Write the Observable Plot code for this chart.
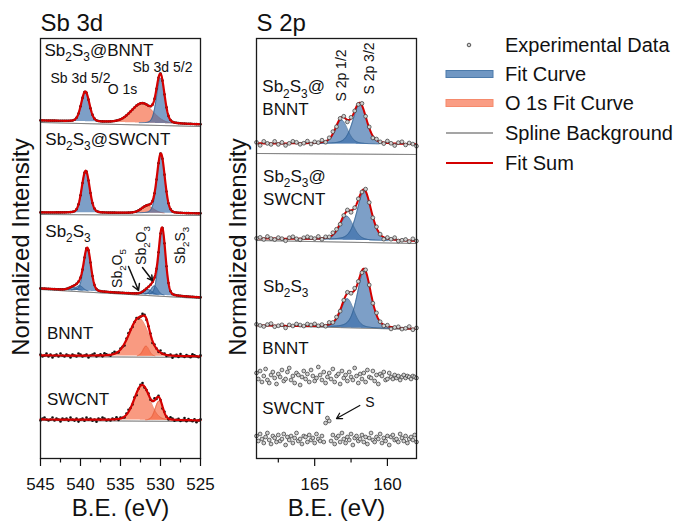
<!DOCTYPE html>
<html><head><meta charset="utf-8">
<script src="https://cdn.jsdelivr.net/npm/d3@7"></script>
<script src="https://cdn.jsdelivr.net/npm/@observablehq/plot@0.6"></script>
<style>
body{margin:0;background:#fff;}
#fig{position:relative;width:685px;height:529px;overflow:hidden;font-family:"Liberation Sans",Arial,Helvetica,sans-serif;color:#111;}
#fig > svg, #fig > div{position:absolute;top:0;}
.ylab{font-size:24px;white-space:nowrap;transform:translate(-50%,-50%) rotate(-90deg);}
</style></head><body><div id="fig"></div>
<script>
const FONT = '"Liberation Sans", Arial, Helvetica, sans-serif';

// ---------------- Sb 3d panel data ----------------
const sbTitle = "Sb 3d";
const sbDomain = [545, 525];
const sbMajorTicks = [545, 540, 535, 530, 525];
const sbMinorTicks = [542.5, 537.5, 532.5, 527.5];
const sbSpectra = ["Sb_2S_3@BNNT", "Sb_2S_3@SWCNT", "Sb_2S_3", "BNNT", "SWCNT"];
const sbLabelX = [544.5, 544.4, 544.4, 544.2, 544.2];
const sbLabelY = [408, 319, 227, 125, 59];
const sbBackgroundLeft = [336, 244, 169, 102, 38];
const sbBackgroundRight = [332, 243, 160, 101, 37];
const sbBaselineGap = [2, 2, 1, 1, 1];
const sbPeakSpectrum = [0, 0, 0, 1, 1, 1, 2, 2, 2, 2, 2, 2, 3, 3, 4, 4];
const sbPeakKind = ["fit","fit","o1s","fit","fit","o1s","fit","fit","fit","fit","fit","fit","o1s","o1s","o1s","o1s"];
const sbPeakCenter = [539.4, 530.0, 532.3, 539.35, 529.95, 531.6, 539.15, 529.8, 540.1, 530.75, 540.9, 531.55, 532.7, 531.8, 532.3, 530.2];
const sbPeakHeight = [30, 45, 19.5, 42, 59, 7, 43, 67, 5, 9, 3, 5, 38, 10, 35, 19];
const sbPeakFwhm = [1.2, 1.15, 3.2, 1.15, 1.15, 1.8, 1.05, 1.0, 1.0, 1.0, 1.2, 1.2, 2.8, 0.9, 2.3, 1.1];
const sbLorentzFraction = 0.15;
const sbResidualBNNT = [1,-1,0,2,-1, 1,-2,0,1,-1, 2,0,-1,1,0, -2,1,0,-1,2, 1,-1,0,1,-2, 0,1,2,-1,0, 1,-1,2,1,0, -1,1,2,0,-1, 1,0,-2,1,2, 1,-1,0,1,-1, 0,2,1,-1,0, 1,-2,1,0,-1, 2,0,1,-1,0, 1,-2,0,1,-1, 2,0,-1,1,0, -1,2,1,0,-1, 1];
const sbResidualSWCNT = [-1,1,2,0,-1, 0,2,-1,1,0, -2,1,0,1,-1, 2,0,-1,1,-2, 0,1,-1,2,0, 1,-1,0,-2,1, 0,2,1,-1,0, -1,1,0,2,-1, 1,0,-1,1,2, 0,-1,1,-2,0, 1,2,-1,0,1, -1,0,2,-1,1, 0,-2,1,0,-1, 2,1,-1,0,1, -1,0,2,-1,1, 0,-1,1,-2,0, 1];
const sbAnnotText = ["Sb 3d 5/2", "Sb 3d 5/2", "O 1s"];
const sbAnnotX = [540, 529.75, 534.75];
const sbAnnotY = [380, 391, 369];
const sbRotText = ["Sb_2O_5", "Sb_2O_3", "Sb_2S_3"];
const sbRotX = [535.4, 532.4, 527.5];
const sbRotY = [190, 213, 213];
const sbArrowX1 = [534.0, 532.25], sbArrowY1 = [192, 191];
const sbArrowX2 = [532.75, 531.0], sbArrowY2 = [168, 178];

// ---------------- S 2p panel data ----------------
const sTitle = "S 2p";
const sDomain = [169, 158];
const sMajorTicks = [165, 160];
const sMinorTicks = [167.5, 162.5];
const sLabelText = ["Sb_2S_3@", "BNNT", "Sb_2S_3@", "SWCNT", "Sb_2S_3", "BNNT", "SWCNT"];
const sLabelX = [168.6, 168.6, 168.55, 168.55, 168.55, 168.6, 168.6];
const sLabelY = [371.5, 349, 282, 259, 172, 110, 50];
const sBackgroundLeft = [305, 218, 133];
const sBackgroundRight = [304, 215, 129];
const sBaselineGap = [10, 2, 0];
const sPeakSpectrum = [0, 0, 1, 1, 2, 2];
const sPeakKind = ["fit","fit","fit","fit","fit","fit"];
const sPeakCenter = [161.9, 163.15, 161.6, 162.8, 161.6, 162.75];
const sPeakHeight = [40, 24, 49, 24, 57, 29];
const sPeakFwhm = [1.1, 1.0, 1.15, 1.1, 1.1, 1.05];
const sLorentzFraction = 0.35;
const sResidual1 = [1,-2,2,0,-1, 2,-1,1,-2,0, 2,1,-1,0,2, -1,1,0,2,-1, 1,2,-1,0,1, -2,1,0,-1,2, 0,1,-2,1,0, -1,2,0,-2,1, 2,-1,1,0,-2];
const sResidual2 = [0,1,-1,2,0, -1,1,0,-2,1, 2,0,-1,1,2, 1,0,2,-1,1, 0,2,1,-1,0, 1,-2,0,1,-1, 2,0,-1,1,0, -2,1,0,2,-1, 0,1,-1,2,0];
const sResidual3 = [1,0,-1,1,2, -1,0,1,-2,1, 0,2,1,0,2, 1,2,0,1,-1, 2,0,1,-1,0, 1,-1,2,0,-2, 1,0,-1,2,0, -1,1,-2,0,1, -1,0,2,-1,1];
const sNoiseCenter = [81.5, 19.5];
const sNoiseBNNT = [4,-2,6,-5,1, 8,-3,-6,2,5, -1,-7,3,0,7, -4,-2,5,9,-3, 1,-6,4,2,-8, 0,6,-2,3,-5, 7,1,-4,-1,10, 2,-3,5,-6,0, 4,-2,8,-5,1, 3,-7,6,-1,2, -4,5,0,-3,9, 1,-6,3,-2,4, -5,7,0,-1,6, -4,2,-7,3,1, 5,-3,-2,4,0, -2,2,-1,1,-3, 0,2,-1,1,0, -2,1,0,-1];
const sNoiseSWCNT = [3,-2,5,0,-4, 2,6,-1,-5,3, 1,-3,4,-2,0, 5,-6,2,-1,3, -4,1,6,-2,0, -5,3,2,-3,4, -1,1,-4,5,0, -2,3,-3, 16,21,18, -2,4,-5,1,3, -3,6,0,-4,2, -1,5,-6,1,3, -2,0,4,-3,2, -5,1,6,-1,-3, 2,0,5,-4,1, -2,3,-6,2,4, -1,0,-3,5,1, -2,3,-4,0,2, -1,4,-3];
const sRotText = ["S 2p 1/2", "S 2p 3/2"];
const sRotX = [163.17, 161.2];
const sRotY = [383, 390];
const sAnnotText = ["S"];
const sAnnotX = [161.2];
const sAnnotY = [56];
const sArrowX1 = [161.9], sArrowY1 = [53];
const sArrowX2 = [163.5], sArrowY2 = [40];

// ---------------- legend ----------------
const legendLabels = ["Experimental Data", "Fit Curve", "O 1s Fit Curve", "Spline Background", "Fit Sum"];

// ---------------- colours ----------------
const BLUE = "#3a6eaa", BLUE_EDGE = "#30608f";
const ORANGE = "#f66a45", ORANGE_EDGE = "#e4623e";
const RED = "#d40000", GREY = "#4d4d4d";

function voigt(x, c, h, w, eta) {
  const t = (x - c) / w;
  return h * ((1 - eta) * Math.exp(-4 * Math.LN2 * t * t) + eta / (1 + 4 * t * t));
}

function build(cfg) {
  const [x0, x1] = cfg.domain;
  const fine = d3.range(0, Math.round((x0 - x1) / cfg.fineStep) + 1).map(i => x0 - i * cfg.fineStep);
  const baseAt = (i, x) => cfg.bgLeft[i] + (cfg.bgRight[i] - cfg.bgLeft[i]) * (x0 - x) / (x0 - x1);
  const model = (i, x) => {
    let y = baseAt(i, x) + cfg.gap[i];
    cfg.peakSpectrum.forEach((s, p) => { if (s === i) y += voigt(x, cfg.center[p], cfg.height[p], cfg.fwhm[p], cfg.eta); });
    return y;
  };
  const n = cfg.bgLeft.length;
  const bgRows = [], sumRows = [], expRows = [], compRows = [];
  for (let i = 0; i < n; i++) {
    fine.forEach(x => { bgRows.push({s: i, x, y: baseAt(i, x)}); sumRows.push({s: i, x, y: model(i, x)}); });
    const res = cfg.residuals[i] || [];
    const nExp = Math.round((x0 - x1) / cfg.expStep) + 1;
    for (let k = 0; k < nExp; k++) {
      const x = x0 - k * cfg.expStep;
      expRows.push({s: i, x, y: model(i, x) + (res[k] || 0)});
    }
  }
  cfg.peakSpectrum.forEach((s, p) => {
    fine.forEach(x => {
      const v = voigt(x, cfg.center[p], cfg.height[p], cfg.fwhm[p], cfg.eta);
      if (v < 0.3) return;
      const b = baseAt(s, x) + cfg.gap[s];
      compRows.push({id: p, kind: cfg.kind[p], x, y1: b, y2: b + v});
    });
  });
  return {bgRows, sumRows, expRows, compRows};
}

function compMarks(rows) {
  const fit = rows.filter(d => d.kind === "fit"), o = rows.filter(d => d.kind === "o1s");
  return [
    Plot.areaY(o, {x: "x", y1: "y1", y2: "y2", z: "id", fill: ORANGE, fillOpacity: 0.68}),
    Plot.line(o, {x: "x", y: "y2", z: "id", stroke: ORANGE_EDGE, strokeWidth: 0.7}),
    Plot.areaY(fit, {x: "x", y1: "y1", y2: "y2", z: "id", fill: BLUE, fillOpacity: 0.66}),
    Plot.line(fit, {x: "x", y: "y2", z: "id", stroke: BLUE_EDGE, strokeWidth: 0.7})
  ];
}

function panel({title, domain, major, minor, marginLeft, marginRight, marks}) {
  return Plot.plot({
    width: 215, height: 529, marginLeft, marginRight, marginTop: 38, marginBottom: 71,
    style: {fontFamily: FONT, fontSize: "17px", color: "#111", background: "transparent", overflow: "visible"},
    x: {domain, label: null},
    y: {domain: [0, 420], axis: null},
    marks: [
      ...marks,
      Plot.frame({stroke: "#1a1a1a", strokeWidth: 1.3}),
      Plot.axisX({ticks: major, tickSize: 8, tickPadding: 11, label: null, strokeWidth: 1.2, fontSize: 17}),
      Plot.axisX({ticks: minor, tickSize: 4.5, tickFormat: () => "", label: null, strokeWidth: 1.2}),
      Plot.text([title], {text: d => d, frameAnchor: "top-left", textAnchor: "start", lineAnchor: "bottom", dy: -8, fontSize: 24}),
      Plot.text(["B.E. (eV)"], {text: d => d, frameAnchor: "bottom", lineAnchor: "bottom", dy: 57, fontSize: 24})
    ]
  });
}

// ---- left panel ----
const sb = build({
  domain: sbDomain, fineStep: 0.05, expStep: 0.25,
  bgLeft: sbBackgroundLeft, bgRight: sbBackgroundRight, gap: sbBaselineGap,
  peakSpectrum: sbPeakSpectrum, center: sbPeakCenter, height: sbPeakHeight, fwhm: sbPeakFwhm, kind: sbPeakKind,
  eta: sbLorentzFraction, residuals: [null, null, null, sbResidualBNNT, sbResidualSWCNT]
});
const sbLabels = sbSpectra.map((t, i) => ({t, x: sbLabelX[i], y: sbLabelY[i]}));
const sbAnnots = sbAnnotText.map((t, i) => ({t, x: sbAnnotX[i], y: sbAnnotY[i]}));
const sbRots = sbRotText.map((t, i) => ({t, x: sbRotX[i], y: sbRotY[i]}));
const sbArrows = sbArrowX1.map((_, i) => ({x1: sbArrowX1[i], y1: sbArrowY1[i], x2: sbArrowX2[i], y2: sbArrowY2[i]}));

const left = panel({
  title: sbTitle, domain: sbDomain, major: sbMajorTicks, minor: sbMinorTicks, marginLeft: 40, marginRight: 15,
  marks: [
    Plot.line(sb.bgRows, {x: "x", y: "y", z: "s", stroke: GREY, strokeWidth: 1}),
    ...compMarks(sb.compRows),
    Plot.dot(sb.expRows, {x: "x", y: "y", r: 1.3, fill: "#111"}),
    Plot.line(sb.sumRows, {x: "x", y: "y", z: "s", stroke: RED, strokeWidth: 2.2}),
    Plot.text(sbLabels, {x: "x", y: "y", text: "t", textAnchor: "start", fontSize: 17}),
    Plot.text(sbAnnots, {x: "x", y: "y", text: "t", fontSize: 14}),
    Plot.text(sbRots, {x: "x", y: "y", text: "t", rotate: -90, fontSize: 14}),
    Plot.arrow(sbArrows, {x1: "x1", y1: "y1", x2: "x2", y2: "y2", stroke: "#111", strokeWidth: 1.5, headLength: 7})
  ]
});

// ---- right panel ----
const sp = build({
  domain: sDomain, fineStep: 0.025, expStep: 0.25,
  bgLeft: sBackgroundLeft, bgRight: sBackgroundRight, gap: sBaselineGap,
  peakSpectrum: sPeakSpectrum, center: sPeakCenter, height: sPeakHeight, fwhm: sPeakFwhm, kind: sPeakKind,
  eta: sLorentzFraction, residuals: [sResidual1, sResidual2, sResidual3]
});
const noiseRows = [sNoiseBNNT, sNoiseSWCNT].flatMap((arr, j) =>
  arr.map((d, k) => ({x: sDomain[0] - k * 0.125, y: sNoiseCenter[j] + d})).filter(d => d.x >= sDomain[1]));
const sLabels = sLabelText.map((t, i) => ({t, x: sLabelX[i], y: sLabelY[i]}));
const sRots = sRotText.map((t, i) => ({t, x: sRotX[i], y: sRotY[i]}));
const sAnnots = sAnnotText.map((t, i) => ({t, x: sAnnotX[i], y: sAnnotY[i]}));
const sArrows = sArrowX1.map((_, i) => ({x1: sArrowX1[i], y1: sArrowY1[i], x2: sArrowX2[i], y2: sArrowY2[i]}));

const right = panel({
  title: sTitle, domain: sDomain, major: sMajorTicks, minor: sMinorTicks, marginLeft: 41, marginRight: 14,
  marks: [
    Plot.line(sp.bgRows, {x: "x", y: "y", z: "s", stroke: GREY, strokeWidth: 1}),
    ...compMarks(sp.compRows),
    Plot.line(sp.sumRows, {x: "x", y: "y", z: "s", stroke: RED, strokeWidth: 2}),
    Plot.dot(sp.expRows, {x: "x", y: "y", r: 1.9, fill: "#d0d0d0", stroke: "#333", strokeWidth: 0.7}),
    Plot.dot(noiseRows, {x: "x", y: "y", r: 1.9, fill: "#d0d0d0", stroke: "#333", strokeWidth: 0.7}),
    Plot.text(sLabels, {x: "x", y: "y", text: "t", textAnchor: "start", fontSize: 17}),
    Plot.text(sRots, {x: "x", y: "y", text: "t", rotate: -90, fontSize: 14}),
    Plot.text(sAnnots, {x: "x", y: "y", text: "t", fontSize: 14}),
    Plot.arrow(sArrows, {x1: "x1", y1: "y1", x2: "x2", y2: "y2", stroke: "#111", strokeWidth: 1.3, headLength: 7})
  ]
});

const fig = document.getElementById("fig");
left.style.left = "0px";
right.style.left = "215px";
fig.append(left, right);

// y labels
[[21, 247], [238, 247]].forEach(([cx, cy]) => {
  const d = document.createElement("div");
  d.className = "ylab";
  d.textContent = "Normalized Intensity";
  d.style.left = cx + "px"; d.style.top = cy + "px";
  fig.append(d);
});

// legend
const NS = "http://www.w3.org/2000/svg";
const lg = document.createElementNS(NS, "svg");
lg.setAttribute("width", 255); lg.setAttribute("height", 529);
lg.style.left = "430px";
lg.setAttribute("font-family", FONT);
const rowsY = [45, 74, 103, 133, 163];
let html = "";
html += `<circle cx="39" cy="${rowsY[0]}" r="1.8" fill="#d0d0d0" stroke="#333" stroke-width="0.8"/>`;
html += `<rect x="16" y="${rowsY[1]-3.5}" width="47" height="7" fill="#7097c3" stroke="#4d7bab" stroke-width="1"/>`;
html += `<rect x="16" y="${rowsY[2]-3.5}" width="47" height="7" fill="#fa9d84" stroke="#f58a6c" stroke-width="1"/>`;
html += `<line x1="16" x2="63" y1="${rowsY[3]}" y2="${rowsY[3]}" stroke="${GREY}" stroke-width="1.2"/>`;
html += `<line x1="16" x2="63" y1="${rowsY[4]}" y2="${rowsY[4]}" stroke="${RED}" stroke-width="1.8"/>`;
legendLabels.forEach((t, i) => { html += `<text x="75" y="${rowsY[i]}" dy="0.35em" font-size="20" fill="#111">${t}</text>`; });
lg.innerHTML = html;
fig.append(lg);

// subscripts (Sb_2S_3 rendered with lowered smaller digits)
fig.querySelectorAll("svg text").forEach(t => {
  const s = t.textContent;
  if (!s.includes("_")) return;
  const fs = parseFloat(getComputedStyle(t).fontSize) || 17;
  while (t.firstChild) t.removeChild(t.firstChild);
  const parts = s.split(/_(\d)/);
  let lowered = false;
  parts.forEach((p, i) => {
    if (!p) return;
    const ts = document.createElementNS(NS, "tspan");
    ts.textContent = p;
    if (i % 2 === 1) {
      ts.setAttribute("font-size", (fs * 0.7).toFixed(1));
      ts.setAttribute("dy", (fs * 0.3).toFixed(1));
      lowered = true;
    } else if (lowered) {
      ts.setAttribute("dy", (-fs * 0.3).toFixed(1));
      lowered = false;
    }
    t.appendChild(ts);
  });
});
</script></body></html>
